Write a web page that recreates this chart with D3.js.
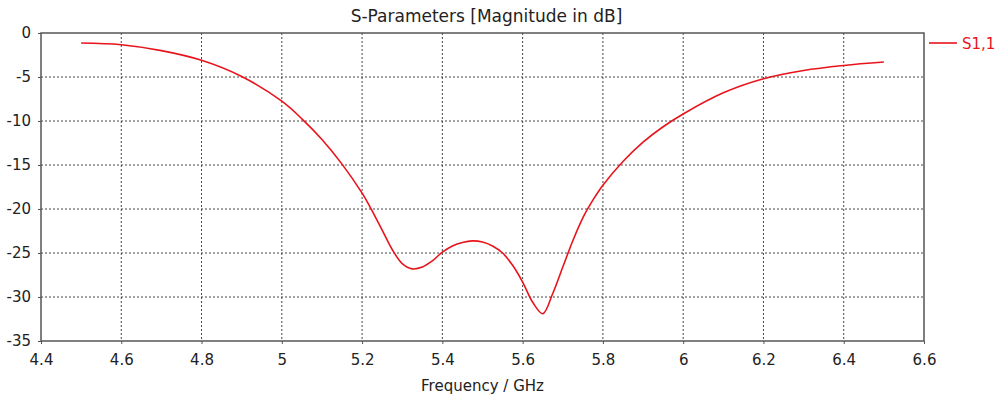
<!DOCTYPE html>
<html>
<head>
<meta charset="utf-8">
<script src="https://cdn.jsdelivr.net/npm/d3@7"></script>
<style>
  body { margin: 0; background: #fff; }
  text { font-family: "DejaVu Sans", Verdana, sans-serif; fill: #222; }
</style>
</head>
<body>
<svg id="chart" width="995" height="400"></svg>
<script>
// S1,1
var freqs = [4.5, 4.6, 4.7, 4.8, 4.9, 5.0, 5.05, 5.1, 5.15, 5.2, 5.225, 5.25, 5.275, 5.3, 5.325, 5.35, 5.375, 5.4, 5.425, 5.45,
    5.475, 5.5, 5.525, 5.55, 5.575, 5.6, 5.625, 5.65, 5.675, 5.7, 5.725, 5.75, 5.775, 5.8, 5.85, 5.9, 5.95, 6.0, 6.1, 6.2, 6.3, 6.4, 6.5];
var s11 = [-1.14, -1.33, -2.0, -3.1, -4.94, -7.75, -9.75, -12.1, -14.9, -18.2, -20.2, -22.4, -24.6, -26.2, -26.8, -26.6, -25.9, -24.9, -24.2, -23.8,
    -23.62, -23.75, -24.2, -25.0, -26.4, -28.3, -30.6, -31.9, -29.6, -26.6, -23.6, -21.0, -19.0, -17.3, -14.6, -12.4, -10.65, -9.2, -6.8, -5.2, -4.26, -3.69, -3.3];

var xTicks = [4.4, 4.6, 4.8, 5, 5.2, 5.4, 5.6, 5.8, 6, 6.2, 6.4, 6.6];
var yTicks = [0, -5, -10, -15, -20, -25, -30, -35];

var seriesName = 'S1,1';
var chartTitle = 'S-Parameters [Magnitude in dB]';
var xTitle = 'Frequency / GHz';

var margin = {top: 33, right: 71, bottom: 59, left: 41};
var width = 995 - margin.left - margin.right;
var height = 400 - margin.top - margin.bottom;
var red = '#e8141c';

var svg = d3.select('#chart');
var g = svg.append('g').attr('transform', 'translate(' + margin.left + ',' + margin.top + ')');

var x = d3.scaleLinear().domain([4.4, 6.6]).range([0, width]);
var y = d3.scaleLinear().domain([-35, 0]).range([height, 0]);

// dotted grid
g.append('g')
    .selectAll('line')
    .data(xTicks.slice(1, -1))
    .enter().append('line')
    .attr('x1', function(d) { return x(d); })
    .attr('x2', function(d) { return x(d); })
    .attr('y1', 0)
    .attr('y2', height)
    .attr('stroke', '#444')
    .attr('stroke-dasharray', '2,2');

g.append('g')
    .selectAll('line')
    .data(yTicks.slice(1, -1))
    .enter().append('line')
    .attr('y1', function(d) { return y(d); })
    .attr('y2', function(d) { return y(d); })
    .attr('x1', 0)
    .attr('x2', width)
    .attr('stroke', '#444')
    .attr('stroke-dasharray', '2,2');

// axes
var xAxis = g.append('g')
    .attr('transform', 'translate(0,' + height + ')')
    .call(d3.axisBottom(x).tickValues(xTicks).tickSize(3).tickPadding(10)
        .tickFormat(function(d) { return String(+d.toFixed(1)); }));
var yAxis = g.append('g')
    .call(d3.axisLeft(y).tickValues(yTicks).tickSize(3).tickPadding(7)
        .tickFormat(function(d) { return String(d); }));

[xAxis, yAxis].forEach(function(a) {
    a.select('.domain').remove();
    a.selectAll('line').attr('stroke', '#555');
    a.selectAll('text').attr('font-size', 15).attr('fill', '#222')
        .style('font-family', '"DejaVu Sans", Verdana, sans-serif');
});

// frame
g.append('rect')
    .attr('width', width)
    .attr('height', height)
    .attr('fill', 'none')
    .attr('stroke', '#555')
    .attr('stroke-width', 1.5);

// curve
var line = d3.line()
    .x(function(d, i) { return x(freqs[i]); })
    .y(function(d) { return y(d); })
    .curve(d3.curveCatmullRom.alpha(0.5));

g.append('path')
    .datum(s11)
    .attr('d', line)
    .attr('fill', 'none')
    .attr('stroke', red)
    .attr('stroke-width', 1.6);

// titles
svg.append('text')
    .attr('x', margin.left + width / 2 + 4)
    .attr('y', 22)
    .attr('text-anchor', 'middle')
    .attr('font-size', 17)
    .text(chartTitle);

svg.append('text')
    .attr('x', margin.left + width / 2)
    .attr('y', 391)
    .attr('text-anchor', 'middle')
    .attr('font-size', 15)
    .text(xTitle);

// legend
var legend = svg.append('g').attr('transform', 'translate(' + (margin.left + width + 5) + ',' + (margin.top + 10) + ')');
legend.append('line')
    .attr('x1', 0)
    .attr('x2', 28)
    .attr('stroke', red)
    .attr('stroke-width', 1.6);
legend.append('text')
    .attr('x', 33)
    .attr('y', 6)
    .attr('font-size', 15)
    .style('fill', red)
    .text(seriesName);
</script>
</body>
</html>
